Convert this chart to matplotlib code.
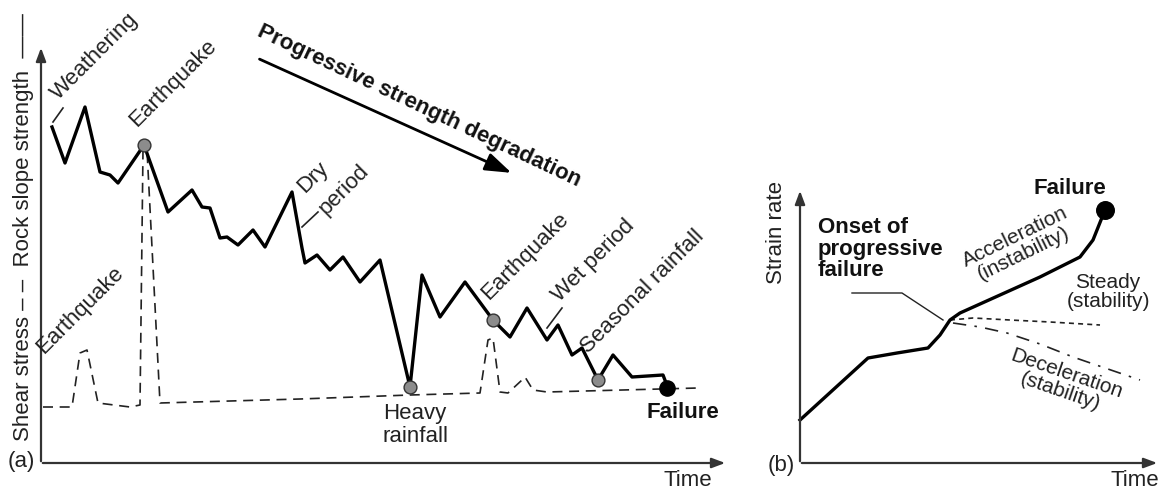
import matplotlib.pyplot as plt
import numpy as np

plt.rcParams['font.family'] = ['Liberation Sans', 'DejaVu Sans']

# panel (a): rock slope strength (solid) and shear stress (dashed), schematic units
strength_t = [52, 65, 85, 100, 110, 118, 144, 168, 192, 202, 210, 220, 227, 238, 253, 265,
              292, 302, 305, 317, 330, 343, 360, 380, 410, 422, 440, 465, 493, 510, 527,
              547, 558, 572, 582, 598, 613, 632, 663, 668]
strength_v = [127, 163, 107, 172, 175, 183, 145, 212, 190, 207, 208, 238, 237, 245, 230, 247,
              192, 248, 263, 255, 270, 257, 282, 260, 387, 275, 317, 282, 320, 337, 308,
              340, 325, 355, 348, 380, 355, 377, 375, 388]
stress_t = [43, 72, 80, 87, 98, 130, 140, 143, 147, 160, 300, 410, 480, 488, 493, 500, 508,
            522, 525, 533, 547, 698]
stress_v = [407, 407, 353, 350, 403, 407, 405, 150, 150, 403, 399, 395, 393, 340, 338, 392, 393,
            380, 377, 390, 392, 388]
events_t = [144, 410, 493, 598]
events_v = [145, 387, 320, 380]
fail_a = (667, 388)

# panel (b): strain rate
rate_t = [800, 868, 897, 928, 940, 950, 960, 1000, 1040, 1080, 1093, 1105]
rate_v = [420, 358, 353, 348, 335, 320, 313, 295, 277, 257, 240, 210]
steady_t = [950, 973, 1010, 1050, 1100]
steady_v = [320, 318, 320, 322, 325]
decel_t = [953, 980, 1007, 1040, 1073, 1105, 1140]
decel_v = [323, 327, 333, 344, 357, 368, 380]

fig = plt.figure(figsize=(11.63, 4.91), dpi=100)
ax = fig.add_axes([0, 0, 1, 1])
ax.set_xlim(0, 1163)
ax.set_ylim(491, 0)
ax.axis('off')

axc = '#333333'
tc = '#222222'
arr = dict(arrowstyle='-|>,head_length=0.8,head_width=0.3', color=axc, lw=1.6)
# axes (a)
ax.annotate('', xy=(41, 45), xytext=(41, 464), arrowprops=arr)
ax.annotate('', xy=(728, 463), xytext=(40, 463), arrowprops=arr)
# axes (b)
ax.annotate('', xy=(800, 188), xytext=(800, 464), arrowprops=arr)
ax.annotate('', xy=(1160, 463), xytext=(799, 463), arrowprops=arr)

# curves (a)
ax.plot(stress_t, stress_v, color=tc, lw=1.2, ls=(0, (6, 4)))
ax.plot(strength_t, strength_v, color='black', lw=2.4, solid_joinstyle='round')
ax.scatter(events_t, events_v, s=85, color='#8c8c8c', edgecolor='#333333', lw=1.0, zorder=5)
ax.scatter([fail_a[0]], [fail_a[1]], s=120, color='black', zorder=5)

# curves (b)
ax.plot(steady_t, steady_v, color=tc, lw=1.2, ls=(0, (3, 2.5)))
ax.plot(decel_t, decel_v, color=tc, lw=1.2, ls=(0, (8, 5, 1.5, 5)))
ax.plot(rate_t, rate_v, color='black', lw=2.4, solid_joinstyle='round')
ax.scatter([1105], [210], s=160, color='black', zorder=5)

fs = 16
# y label (a)
ax.text(23, 441, 'Shear stress – –  Rock slope strength  ——', rotation=90,
        ha='left', va='center', rotation_mode='anchor', fontsize=fs, color=tc)
ax.text(21, 462, '(a)', ha='center', va='center', fontsize=fs, color=tc)
ax.text(688, 481, 'Time', ha='center', va='center', fontsize=fs, color=tc)

def rot(x, y, s, ang=45, **kw):
    ax.text(x, y, s, rotation=ang, rotation_mode='anchor', ha='left', va='bottom',
            fontsize=fs, color=tc, **kw)

rot(62, 104, 'Weathering')
ax.plot([53, 63], [122, 108], color=tc, lw=1.2)
rot(140, 131, 'Earthquake')
rot(47, 358, 'Earthquake')
rot(308, 197, 'Dry')
rot(330, 219, 'period')
ax.plot([302, 318], [227, 212], color=tc, lw=1.2)
rot(492, 304, 'Earthquake')
rot(563, 306, 'Wet period')
ax.plot([547, 562], [328, 308], color=tc, lw=1.2)
rot(592, 358, 'Seasonal rainfall')
ax.text(383, 425, 'Heavy\nrainfall', ha='left', va='center', fontsize=fs,
        color=tc, linespacing=1.1)
ax.text(683, 412, 'Failure', ha='center', va='center', fontsize=fs,
        fontweight='bold', color='#111111')

ax.text(263, 21, 'Progressive strength degradation', rotation=-25.2, rotation_mode='anchor',
        ha='left', va='top', fontsize=fs, fontweight='bold', color='#111111')
ax.annotate('', xy=(514, 174), xytext=(257, 58),
            arrowprops=dict(arrowstyle='-|>,head_length=1.6,head_width=0.55',
                            color='black', lw=2.0))

# panel (b) texts
ax.text(777, 233, 'Strain rate', rotation=90, ha='center', va='center', fontsize=fs,
        color=tc)
ax.text(781, 466, '(b)', ha='center', va='center', fontsize=fs, color=tc)
ax.text(1135, 481, 'Time', ha='center', va='center', fontsize=fs, color=tc)
ax.text(1070, 188, 'Failure', ha='center', va='center', fontsize=fs, fontweight='bold',
        color='#111111')
ax.text(818, 249, 'Onset of\nprogressive\nfailure', ha='left', va='center', fontsize=16,
        fontweight='bold', color='#111111', linespacing=1.05)
ax.plot([852, 902, 943], [293, 293, 320], color=tc, lw=1.0)
ax.text(1019, 245, 'Acceleration\n(instability)', rotation=26, rotation_mode='anchor',
        ha='center', va='center', fontsize=15, color=tc, linespacing=1.0)
ax.text(1108, 292, 'Steady\n(stability)', ha='center', va='center', fontsize=15,
        color=tc, linespacing=1.05)
ax.text(1063, 383, 'Deceleration\n(stability)', rotation=-19, rotation_mode='anchor',
        ha='center', va='center', fontsize=15, color=tc, linespacing=1.0)

fig.savefig('out.png', dpi=100)
